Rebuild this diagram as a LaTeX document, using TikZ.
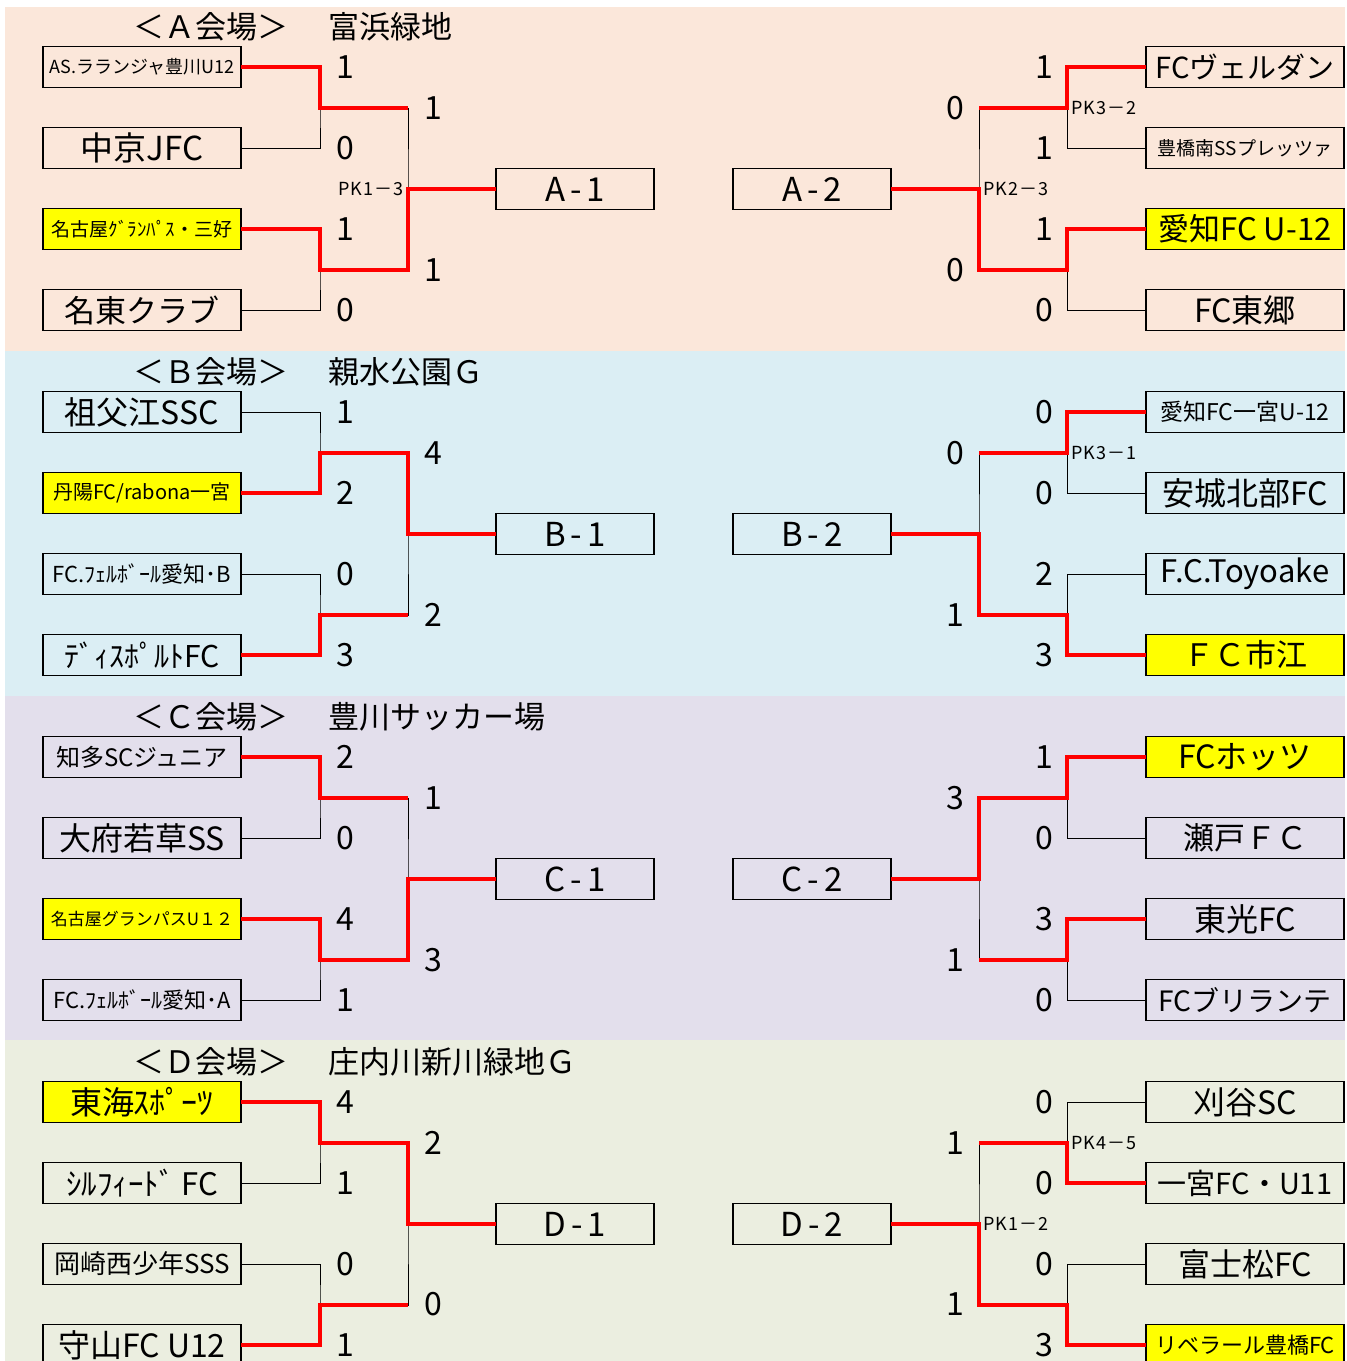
\documentclass[tikz,border=0pt]{standalone}
\usepackage{fontspec}
\setmainfont{Noto Sans CJK JP}
\usetikzlibrary{positioning}
\definecolor{venueA}{RGB}{251,231,218}
\definecolor{venueB}{RGB}{219,238,244}
\definecolor{venueC}{RGB}{227,223,236}
\definecolor{venueD}{RGB}{235,238,224}
\definecolor{winred}{RGB}{255,0,0}
\definecolor{topyellow}{RGB}{255,255,0}
\newcommand{\fsz}[1]{\fontsize{#1}{#1}\selectfont}

\begin{document}
\begin{tikzpicture}[x=1pt, y=-1pt,
	team/.style={draw, line width=1.2pt, minimum width=198pt, minimum height=41pt, inner sep=0pt, outer sep=0pt},
	winner/.style={team, fill=topyellow},
	final/.style={draw, line width=1.2pt, minimum width=158pt, minimum height=41pt, inner sep=0pt, outer sep=0pt, font=\fsz{33}},
	score/.style={inner sep=0pt, font=\fsz{32}},
	pk/.style={inner sep=0pt, font=\fsz{18}\addfontfeature{LetterSpace=6}},
	venue/.style={anchor=west, inner sep=0pt, font=\fsz{31}},
	bracket/.style={line width=1pt},
	win/.style={draw=winred, line width=4.5pt}]

	\useasboundingbox (0,0) rectangle (1347,1361);
	\clip (0,0) rectangle (1347,1361);

	\fill[venueA] (5,7) rectangle (1345,351);
	\fill[venueB] (5,351) rectangle (1345,696);
	\fill[venueC] (5,696) rectangle (1345,1040);
	\fill[venueD] (5,1040) rectangle (1345,1361);

	\node[venue] (tA) at (133,27) {＜Ａ会場＞};
	\node[venue] (vA) at (328,27) {富浜緑地};
	\node[venue] (tB) at (133,372) {＜Ｂ会場＞};
	\node[venue] (vB) at (328,372) {親水公園Ｇ};
	\node[venue] (tC) at (133,717) {＜Ｃ会場＞};
	\node[venue] (vC) at (328,717) {豊川サッカー場};
	\node[venue] (tD) at (133,1062) {＜Ｄ会場＞};
	\node[venue] (vD) at (328,1062) {庄内川新川緑地Ｇ};

	% A
	\node[team, font=\fsz{18}] (A1) at (142,67) {AS.ラランジャ豊川U12};
	\node[team, font=\fsz{33}, below=40pt of A1] (A2) {中京JFC};
	\node[winner, font=\fsz{19}, below=40pt of A2] (A3) {名古屋ｸﾞﾗﾝﾊﾟｽ・三好};
	\node[team, font=\fsz{31}, below=40pt of A3] (A4) {名東クラブ};
	\node[team, font=\fsz{29}] (A5) at (1245,67) {FCヴェルダン};
	\node[team, font=\fsz{19}, below=40pt of A5] (A6) {豊橋南SSプレッツァ};
	\node[winner, font=\fsz{31}, below=40pt of A6] (A7) {愛知FC U-12};
	\node[team, font=\fsz{32}, below=40pt of A7] (A8) {FC東郷};
	\node[final] (Ac1) at (575,189) {A\hspace{5pt}-\hspace{5pt}1};
	\node[final] (Ac2) at (812,189) {A\hspace{5pt}-\hspace{5pt}2};

	% B
	\node[team, font=\fsz{32}] (B1) at (142,412) {祖父江SSC};
	\node[winner, font=\fsz{20}, below=40pt of B1] (B2) {丹陽FC/rabona一宮};
	\node[team, font=\fsz{22}, below=40pt of B2] (B3) {FC.ﾌｪﾙﾎﾞｰﾙ愛知･B};
	\node[team, font=\fsz{30}, below=40pt of B3] (B4) {ﾃﾞｨｽﾎﾟﾙﾄFC};
	\node[team, font=\fsz{23}] (B5) at (1245,412) {愛知FC一宮U-12};
	\node[team, font=\fsz{32}, below=40pt of B5] (B6) {安城北部FC};
	\node[team, font=\fsz{31}, below=40pt of B6] (B7) {F.C.Toyoake};
	\node[winner, font=\fsz{31}, below=40pt of B7] (B8) {ＦＣ市江};
	\node[final] (Bc1) at (575,534) {B\hspace{5pt}-\hspace{5pt}1};
	\node[final] (Bc2) at (812,534) {B\hspace{5pt}-\hspace{5pt}2};

	% C
	\node[team, font=\fsz{24}] (C1) at (142,757) {知多SCジュニア};
	\node[team, font=\fsz{32}, below=40pt of C1] (C2) {大府若草SS};
	\node[winner, font=\fsz{17}, below=40pt of C2] (C3) {名古屋グランパスU１２};
	\node[team, font=\fsz{22}, below=40pt of C3] (C4) {FC.ﾌｪﾙﾎﾞｰﾙ愛知･A};
	\node[winner, font=\fsz{32}] (C5) at (1245,757) {FCホッツ};
	\node[team, font=\fsz{31}, below=40pt of C5] (C6) {瀬戸ＦＣ};
	\node[team, font=\fsz{32}, below=40pt of C6] (C7) {東光FC};
	\node[team, font=\fsz{28}, below=40pt of C7] (C8) {FCブリランテ};
	\node[final] (Cc1) at (575,879) {C\hspace{5pt}-\hspace{5pt}1};
	\node[final] (Cc2) at (812,879) {C\hspace{5pt}-\hspace{5pt}2};

	% D
	\node[winner, font=\fsz{32}] (D1) at (142,1102) {東海ｽﾎﾟｰﾂ};
	\node[team, font=\fsz{31}, below=40pt of D1] (D2) {ｼﾙﾌｨｰﾄﾞ FC};
	\node[team, font=\fsz{26}, below=40pt of D2] (D3) {岡崎西少年SSS};
	\node[team, font=\fsz{32}, below=40pt of D3] (D4) {守山FC U12};
	\node[team, font=\fsz{32}] (D5) at (1245,1102) {刈谷SC};
	\node[team, font=\fsz{29}, below=40pt of D5] (D6) {一宮FC・U11};
	\node[team, font=\fsz{32}, below=40pt of D6] (D7) {富士松FC};
	\node[winner, font=\fsz{22}, below=40pt of D7] (D8) {リベラール豊橋FC};
	\node[final] (Dc1) at (575,1224) {D\hspace{5pt}-\hspace{5pt}1};
	\node[final] (Dc2) at (812,1224) {D\hspace{5pt}-\hspace{5pt}2};

	\foreach \s/\y in {A/0,B/345,C/690,D/1035} {
		\coordinate (\s j1) at (320,108+\y);
		\coordinate (\s j2) at (320,270+\y);
		\coordinate (\s j3) at (408,189+\y);
		\coordinate (\s j4) at (1067,108+\y);
		\coordinate (\s j5) at (1067,270+\y);
		\coordinate (\s j6) at (979,189+\y);
		\draw[bracket] (\s1.east) -| (\s j1) |- (\s2.east);
		\draw[bracket] (\s3.east) -| (\s j2) |- (\s4.east);
		\draw[bracket] (\s j1) -| (\s j3) |- (\s j2);
		\draw[bracket] (\s j3) -- (\s c1.west);
		\draw[bracket] (\s5.west) -| (\s j4) |- (\s6.west);
		\draw[bracket] (\s7.west) -| (\s j5) |- (\s8.west);
		\draw[bracket] (\s j4) -| (\s j6) |- (\s j5);
		\draw[bracket] (\s j6) -- (\s c2.east);
	}

	% winners
	\draw[win] (A1.east) -| (Aj1) -- (Aj1 -| Aj3);
	\draw[win] (A3.east) -| (Aj2) -| (Aj3) -- (Ac1.west);
	\draw[win] (A5.west) -| (Aj4) -- (Aj4 -| Aj6);
	\draw[win] (A7.west) -| (Aj5) -| (Aj6) -- (Ac2.east);
	\draw[win] (B2.east) -| (Bj1) -| (Bj3) -- (Bc1.west);
	\draw[win] (B4.east) -| (Bj2) -- (Bj2 -| Bj3);
	\draw[win] (B5.west) -| (Bj4) -- (Bj4 -| Bj6);
	\draw[win] (B8.west) -| (Bj5) -| (Bj6) -- (Bc2.east);
	\draw[win] (C1.east) -| (Cj1) -- (Cj1 -| Cj3);
	\draw[win] (C3.east) -| (Cj2) -| (Cj3) -- (Cc1.west);
	\draw[win] (C5.west) -| (Cj4) -| (Cj6) -- (Cc2.east);
	\draw[win] (C7.west) -| (Cj5) -- (Cj5 -| Cj6);
	\draw[win] (D1.east) -| (Dj1) -| (Dj3) -- (Dc1.west);
	\draw[win] (D4.east) -| (Dj2) -- (Dj2 -| Dj3);
	\draw[win] (D6.west) -| (Dj4) -- (Dj4 -| Dj6);
	\draw[win] (D8.west) -| (Dj5) -| (Dj6) -- (Dc2.east);

	% scores A
	\foreach \v [count=\i] in {1,0,1,0}
		\node[score] (Asl\i) at (345,-14+81*\i) {\v};
	\foreach \v [count=\i] in {1,1,1,0}
		\node[score] (Asr\i) at (1044,-14+81*\i) {\v};
	\node[score] (Asl5) at (433,108) {1};
	\node[score] (Asl6) at (433,270) {1};
	\node[score] (Asr5) at (955,108) {0};
	\node[score] (Asr6) at (955,270) {0};

	% scores B
	\foreach \v [count=\i] in {1,2,0,3}
		\node[score] (Bsl\i) at (345,331+81*\i) {\v};
	\foreach \v [count=\i] in {0,0,2,3}
		\node[score] (Bsr\i) at (1044,331+81*\i) {\v};
	\node[score] (Bsl5) at (433,453) {4};
	\node[score] (Bsl6) at (433,615) {2};
	\node[score] (Bsr5) at (955,453) {0};
	\node[score] (Bsr6) at (955,615) {1};

	% scores C
	\foreach \v [count=\i] in {2,0,4,1}
		\node[score] (Csl\i) at (345,676+81*\i) {\v};
	\foreach \v [count=\i] in {1,0,3,0}
		\node[score] (Csr\i) at (1044,676+81*\i) {\v};
	\node[score] (Csl5) at (433,798) {1};
	\node[score] (Csl6) at (433,960) {3};
	\node[score] (Csr5) at (955,798) {3};
	\node[score] (Csr6) at (955,960) {1};

	% scores D
	\foreach \v [count=\i] in {4,1,0,1}
		\node[score] (Dsl\i) at (345,1021+81*\i) {\v};
	\foreach \v [count=\i] in {0,0,0,3}
		\node[score] (Dsr\i) at (1044,1021+81*\i) {\v};
	\node[score] (Dsl5) at (433,1143) {2};
	\node[score] (Dsl6) at (433,1304) {0};
	\node[score] (Dsr5) at (955,1143) {1};
	\node[score] (Dsr6) at (955,1304) {1};

	% penalty kicks
	\node[pk, anchor=east] (pkA1) at (404,189) {PK1－3};
	\node[pk, anchor=west] (pkA2) at (1071,108) {PK3－2};
	\node[pk, anchor=west] (pkA3) at (983,189) {PK2－3};
	\node[pk, anchor=west] (pkB1) at (1071,453) {PK3－1};
	\node[pk, anchor=west] (pkD1) at (1071,1143) {PK4－5};
	\node[pk, anchor=west] (pkD2) at (983,1224) {PK1－2};

\end{tikzpicture}
\end{document}
